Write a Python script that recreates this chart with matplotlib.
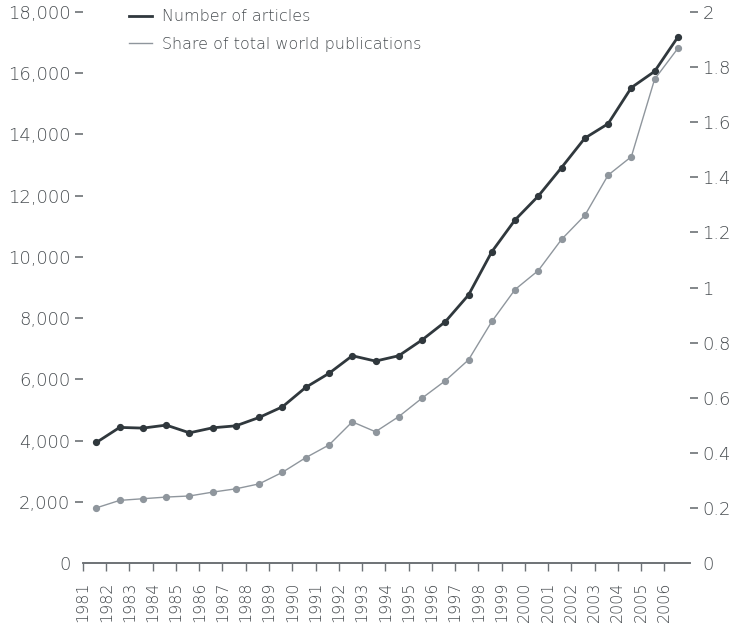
import matplotlib
matplotlib.use("Agg")
import matplotlib.pyplot as plt
from matplotlib.ticker import FuncFormatter

plt.rcParams["font.family"] = ["DejaVu Sans"]
plt.rcParams["font.weight"] = "light"

# data
years = list(range(1981, 2007))
articles = [3944, 4435, 4412, 4510, 4258, 4422, 4487, 4761, 5108, 5742,
            6200, 6775, 6600, 6775, 7290, 7885, 8760, 10170, 11210, 11990,
            12920, 13880, 14350, 15530, 16060, 17180]
share = [0.201, 0.228, 0.234, 0.240, 0.244, 0.258, 0.270, 0.288, 0.330, 0.383,
         0.429, 0.513, 0.477, 0.532, 0.599, 0.662, 0.738, 0.877, 0.993, 1.062,
         1.175, 1.262, 1.408, 1.475, 1.756, 1.868]
left_ticks = list(range(0, 18001, 2000))
right_ticks = [0, 0.2, 0.4, 0.6, 0.8, 1.0, 1.2, 1.4, 1.6, 1.8, 2.0]

C_DARK = "#30383d"
C_GREY = "#8f969d"
C_TEXT = "#484d51"
C_AXIS = "#6d7276"

fig = plt.figure(figsize=(7.34, 6.3), dpi=100)
ax = fig.add_axes([0.113, 0.106, 0.827, 0.875])
ax2 = ax.twinx()

xpos = [i + 0.58 for i in range(len(years))]
l1, = ax.plot(xpos, articles, color=C_DARK, lw=2.0, marker="o", ms=4.2,
              label="Number of articles", zorder=3)
l2, = ax2.plot(xpos, share, color=C_GREY, lw=1.0, marker="o", ms=4.2,
               label="Share of total world publications", zorder=2)

ax.set_xlim(0, 26.1)
ax.set_ylim(0, 18000)
ax2.set_ylim(0, 2)

ax.set_xticks(range(len(years)))
ax.set_xticklabels([str(y) for y in years], rotation=90, fontsize=11.5,
                   color=C_TEXT)
ax.set_yticks(left_ticks)
ax.yaxis.set_major_formatter(FuncFormatter(lambda v, p: f"{int(v):,}"))
ax2.set_yticks(right_ticks)
ax2.yaxis.set_major_formatter(FuncFormatter(lambda v, p: f"{v:g}"))

for a in (ax, ax2):
    for s in ("top", "left", "right"):
        a.spines[s].set_visible(False)
    a.spines["bottom"].set_color(C_AXIS)
    a.spines["bottom"].set_linewidth(1.2)

ax.tick_params(axis="x", length=6, width=1, color=C_AXIS, pad=7)
ax.tick_params(axis="y", length=6, width=1.2, color=C_AXIS, pad=3,
               labelsize=13, labelcolor=C_TEXT)
ax2.tick_params(axis="y", length=6, width=1.2, color=C_AXIS, pad=3,
                labelsize=13, labelcolor=C_TEXT)

# zero ticks carry no dash
fig.canvas.draw()
ax.yaxis.get_major_ticks()[0].tick1line.set_visible(False)
ax2.yaxis.get_major_ticks()[0].tick2line.set_visible(False)

ax.legend(handles=[l1, l2], loc="upper left", bbox_to_anchor=(0.052, 1.031),
          frameon=False, fontsize=11.5, handlelength=1.45, handletextpad=0.6,
          labelspacing=0.8, labelcolor=C_TEXT)
leg = ax.get_legend()
for h in leg.legend_handles:
    h.set_marker("")

fig.savefig("out.png", dpi=100, facecolor="white")
